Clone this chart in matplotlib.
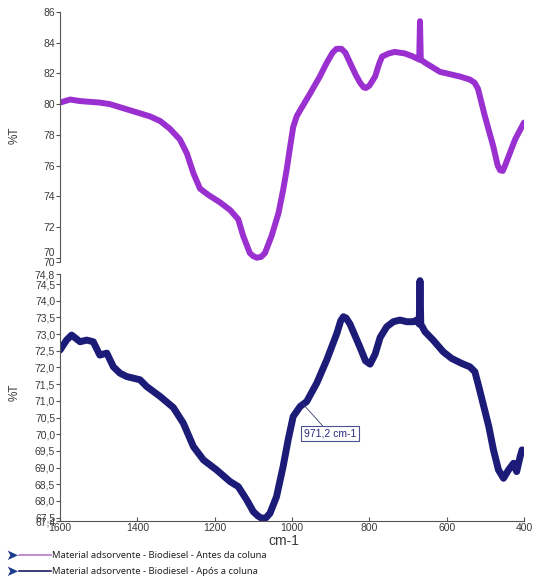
import numpy as np
import matplotlib
matplotlib.use("Agg")
from matplotlib import pyplot as plt
from matplotlib.lines import Line2D

# FTIR spectra, wavenumber (cm-1) vs %T
top_wn = [1600, 1574, 1548, 1497, 1471, 1419, 1367, 1341, 1316, 1290, 1272, 1255,
          1238, 1217, 1186, 1160, 1139, 1126, 1109, 1100, 1091, 1080, 1070, 1053,
          1035, 1023, 1014, 1005, 997, 988, 979, 953, 928, 910, 895, 885, 872, 862,
          850, 835, 824, 815, 809, 800, 785, 775, 767, 750, 734, 708, 687, 671,
          669, 667, 656, 617, 566, 540, 528, 519, 501, 480, 468, 462, 455, 449,
          423, 400]
top_t = [80.1, 80.3, 80.2, 80.1, 80.0, 79.6, 79.2, 78.9, 78.4, 77.7, 76.8, 75.5,
         74.5, 74.1, 73.6, 73.1, 72.5, 71.4, 70.3, 70.1, 70.0, 70.05, 70.3, 71.4,
         72.9, 74.4, 75.7, 77.2, 78.5, 79.2, 79.6, 80.7, 81.8, 82.7, 83.35, 83.6,
         83.6, 83.35, 82.7, 81.9, 81.4, 81.1, 81.05, 81.2, 81.8, 82.6, 83.1, 83.3,
         83.4, 83.3, 83.1, 82.9, 85.4, 82.9, 82.7, 82.1, 81.8, 81.6, 81.4, 81.0,
         79.2, 77.3, 76.0, 75.7, 75.65, 76.0, 77.7, 78.8]

bot_wn = [1600, 1583, 1570, 1548, 1531, 1514, 1497, 1479, 1462, 1445, 1428, 1393,
          1376, 1341, 1307, 1281, 1255, 1229, 1195, 1160, 1139, 1117, 1100, 1088,
          1078, 1067, 1057, 1040, 1023, 1010, 997, 979, 962, 936, 910, 884, 874,
          867, 860, 850, 824, 810, 798, 785, 772, 755, 738, 721, 703, 686, 678,
          671, 669, 667, 656, 635, 609, 587, 561, 540, 527, 517, 504, 491, 479,
          466, 453, 440, 427, 419, 410, 405, 400]
bot_t = [72.52, 72.82, 72.97, 72.77, 72.82, 72.77, 72.37, 72.43, 72.02, 71.83, 71.73,
         71.63, 71.43, 71.13, 70.8, 70.33, 69.63, 69.23, 68.93, 68.58, 68.43, 68.03,
         67.68, 67.55, 67.48, 67.5, 67.63, 68.13, 69.03, 69.83, 70.53, 70.83, 70.98,
         71.53, 72.23, 73.02, 73.4, 73.52, 73.48, 73.3, 72.6, 72.2, 72.1, 72.4, 72.9,
         73.22, 73.37, 73.42, 73.37, 73.37, 73.42, 73.3, 74.6, 73.3, 73.07, 72.82,
         72.47, 72.27, 72.12, 72.02, 71.87, 71.43, 70.83, 70.23, 69.53, 68.93, 68.68,
         68.93, 69.13, 68.88, 69.33, 69.53, 69.45]

top_yticks = [70, 72, 74, 76, 78, 80, 82, 84, 86]
bot_yticks = [67.4, 67.5, 68.0, 68.5, 69.0, 69.5, 70.0, 70.5, 71.0, 71.5, 72.0,
              72.5, 73.0, 73.5, 74.0, 74.5, 74.8]
xticks = [1600, 1400, 1200, 1000, 800, 600, 400]

peak_wn = 971.2
labels = ["Material adsorvente - Biodiesel - Antes da coluna",
          "Material adsorvente - Biodiesel - Após a coluna"]
colors = ["#9a30cf", "#1c1c78"]
legend_colors = ["#b57ac8", "#1c1c60"]

plt.rcParams['font.family'] = ['Liberation Sans', 'DejaVu Sans']
txt = "#3a3a3a"
spine = "#555555"

W, H = 533, 579
fig = plt.figure(figsize=(W / 100, H / 100), dpi=100)


def box(l, t, r, b):
    return [l / W, 1 - b / H, (r - l) / W, (b - t) / H]


ax1 = fig.add_axes(box(60, 12, 524, 262))
ax2 = fig.add_axes(box(60, 274, 524, 521))

for ax in (ax1, ax2):
    for s in ("top", "right"):
        ax.spines[s].set_visible(False)
    ax.spines["left"].set_color(spine)
    ax.spines["left"].set_linewidth(0.8)
    ax.set_xlim(1600, 400)
    ax.tick_params(axis="y", direction="out", length=3, width=0.8, color=spine,
                   labelsize=7.5, labelcolor=txt, pad=0.5)

# upper spectrum
ax1.plot(top_wn, top_t, color=colors[0], lw=4.3, solid_capstyle="round",
         solid_joinstyle="round")
ax1.set_ylim(69.72, 86)
ax1.spines["bottom"].set_visible(False)
ax1.set_xticks([])
ax1.set_yticks(top_yticks + [69.72])
ax1.set_yticklabels([str(v) for v in top_yticks] + ["70"])
ax1.get_yticklabels()[0].set_va("bottom")

# lower spectrum
ax2.plot(bot_wn, bot_t, color=colors[1], lw=5, solid_capstyle="round",
         solid_joinstyle="round")
ax2.set_ylim(67.4, 74.8)
ax2.set_yticks(bot_yticks)
ax2.set_yticklabels([f"{v:.1f}".replace(".", ",") for v in bot_yticks])
ax2.spines["bottom"].set_color(spine)
ax2.spines["bottom"].set_linewidth(0.8)
ax2.set_xticks(xticks)
ax2.set_xticklabels([str(v) for v in xticks])
ax2.tick_params(axis="x", direction="in", length=3, width=0.8, color=spine,
                labelsize=7.5, labelcolor=txt, pad=1.5)

# peak marker on the lower spectrum
peak_t = np.interp(peak_wn, bot_wn[::-1], bot_t[::-1])
ax2.annotate(f"{peak_wn:.1f}".replace(".", ",") + " cm-1",
             xy=(peak_wn, peak_t), xytext=(902, 70.01), textcoords="data",
             ha="center", va="center", fontsize=7.5, color="#2a2a80",
             bbox=dict(boxstyle="square,pad=0.25", fc="white", ec="#4a5090", lw=0.8),
             arrowprops=dict(arrowstyle="-", color="#3a4070", lw=0.6,
                             shrinkA=0, shrinkB=0))

fig.text(15 / W, 1 - 135 / H, "%T", rotation=90, ha="center", va="center",
         fontsize=8.5, color=txt)
fig.text(15 / W, 1 - 392 / H, "%T", rotation=90, ha="center", va="center",
         fontsize=8.5, color=txt)
fig.text(284 / W, 1 - 541 / H, "cm-1", ha="center", va="center",
         fontsize=10, color=txt)

# legend rows below the plot
for i, (lab, c) in enumerate(zip(labels, legend_colors)):
    y = 1 - (555 + 16 * i) / H
    fig.text(12 / W, y, "\u27a4", ha="center", va="center", fontsize=11,
             color="#1e3c8c", family=["DejaVu Sans"])
    fig.add_artist(Line2D([19 / W, 51 / W], [y, y], color=c, lw=1.2,
                          transform=fig.transFigure))
    fig.text(52 / W, y, lab, ha="left", va="center", fontsize=6.8,
             color="#222222", family=["Noto Sans", "DejaVu Sans"])

fig.savefig("out.png", dpi=100)
